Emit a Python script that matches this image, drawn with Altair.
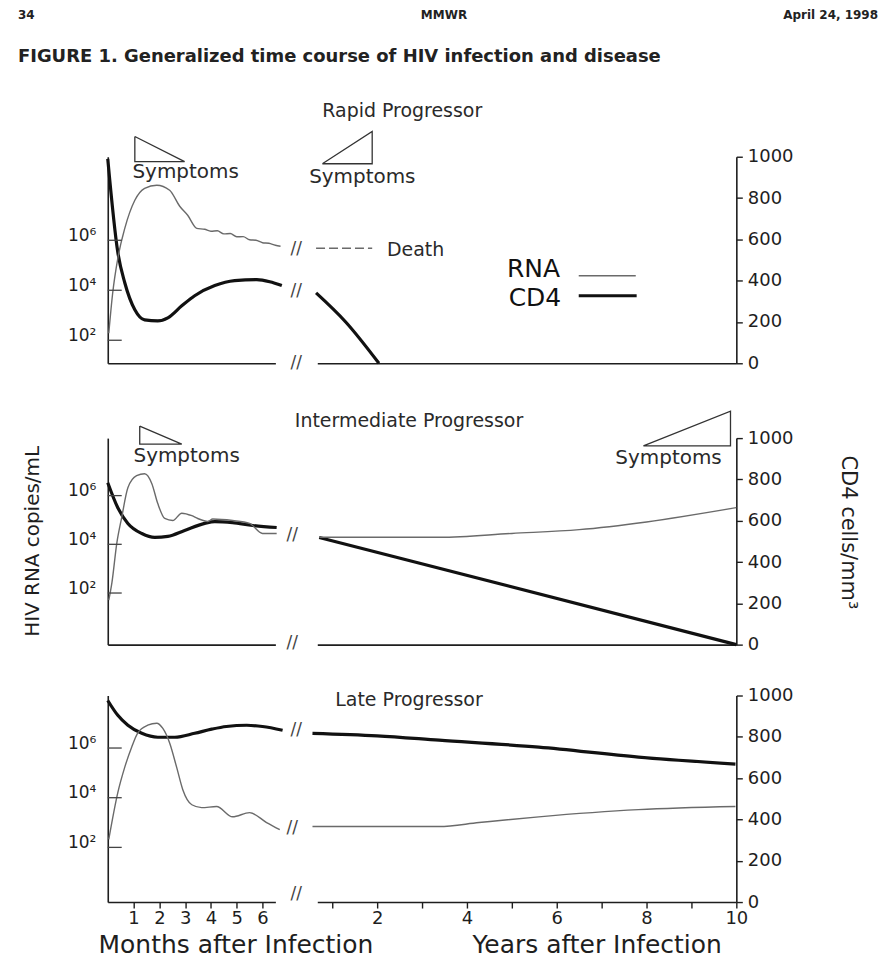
import altair as alt
import pandas as pd

FONT = "DejaVu Sans"
INK = "#1e1e1e"
GREY = "#6a6a6a"

# ---------------- axis values ----------------
month_ticks = [1, 2, 3, 4, 5, 6]
year_ticks = [1, 2, 3, 4, 5, 6, 7, 8, 9, 10]
cd4_ticks = [0, 200, 400, 600, 800, 1000]
rna_ticks = [1e2, 1e4, 1e6]

MONTH_DOMAIN = [0, 6.5]
YEAR_DOMAIN = [0.667, 10]
CD4_DOMAIN = [0, 1000]

# ---------------- Rapid progressor ----------------
rapid_cd4_m = [0, 0.39, 0.66, 1.05, 1.43, 1.94, 2.33, 2.87, 3.37, 4.15, 4.92, 5.78, 6.28, 6.75]
rapid_cd4_m_v = [990, 537, 390, 259, 210, 205, 220, 278, 327, 376, 400, 405, 395, 376]
rapid_cd4_y = [0.64, 1.3, 2.04]
rapid_cd4_y_v = [341, 200, 0]
rapid_rna_m = [0.04, 0.19, 0.39, 0.66, 1.05, 1.43, 1.9, 2.4, 2.79, 3.1, 3.45, 3.76, 4.0,
               4.25, 4.5, 4.75, 5.0, 5.25, 5.5, 5.75, 6.0, 6.25, 6.5, 6.7]
rapid_rna_m_v = [190, 7.6e3, 1.9e5, 3.0e6, 4.0e7, 1.2e8, 1.6e8, 1.0e8, 2.3e7, 1.0e7, 3.0e6,
                 2.75e6, 2.3e6, 2.4e6, 1.8e6, 1.86e6, 1.38e6, 1.4e6, 1.05e6, 1.0e6, 8.0e5,
                 7.6e5, 6.3e5, 5.8e5]
rapid_rna_y = [0.64, 1.89]
rapid_rna_y_v = [4.8e5, 4.8e5]
rapid_rna_domain = [12, 2.2e9]

# ---------------- Intermediate progressor ----------------
inter_cd4_m = [0, 0.39, 0.78, 1.32, 1.82, 2.33, 2.98, 3.76, 4.15, 4.84, 5.62, 6.55]
inter_cd4_m_v = [784, 663, 587, 538, 519, 524, 553, 587, 596, 591, 577, 567]
inter_cd4_y = [0.71, 10.0]
inter_cd4_y_v = [519, 0]
inter_rna_m = [0.04, 0.16, 0.35, 0.54, 0.78, 1.12, 1.43, 1.71, 1.94, 2.21, 2.52, 2.87,
               3.26, 3.49, 3.88, 4.07, 4.84, 5.5, 6.0, 6.55]
inter_rna_m_v = [51, 260, 1.1e4, 1.26e5, 2.1e6, 6.6e6, 7.9e6, 3.1e6, 4.7e5, 1.15e5, 9.5e4,
                 1.9e5, 1.5e5, 1.15e5, 8.7e4, 1.1e5, 9.5e4, 7.2e4, 2.8e4, 2.8e4]
inter_rna_y = [0.71, 3.4, 5.0, 6.5, 8.0, 10.0]
inter_rna_y_v = [1.95e4, 1.95e4, 2.8e4, 4.0e4, 8.3e4, 3.2e5]
inter_rna_domain = [0.76, 2.3e8]

# ---------------- Late progressor ----------------
late_cd4_m = [0, 0.39, 0.78, 1.32, 1.94, 2.6, 3.37, 4.03, 4.6, 5.39, 6.0, 6.78]
late_cd4_m_v = [976, 904, 856, 817, 798, 798, 817, 837, 850, 856, 850, 832]
late_cd4_y = [0.56, 2.0, 3.38, 5.6, 7.82, 9.98]
late_cd4_y_v = [817, 805, 784, 750, 702, 668]
late_rna_m = [0.04, 0.39, 0.66, 0.93, 1.16, 1.55, 1.9, 2.13, 2.4, 2.67, 2.91, 3.26, 3.64,
              4.22, 4.84, 5.5, 6.16, 6.67]
late_rna_m_v = [210, 1.6e4, 1.7e5, 1.1e6, 4.0e6, 8.3e6, 1.0e7, 6.3e6, 1.6e6, 1.7e5, 2.1e4,
                5.2e3, 4.0e3, 4.4e3, 1.7e3, 2.5e3, 1.0e3, 520]
late_rna_y = [0.56, 3.38, 4.27, 5.6, 7.82, 9.98]
late_rna_y_v = [690, 690, 1.0e3, 1.7e3, 3.3e3, 4.4e3]
late_rna_domain = [0.63, 1.3e8]

# ---------------- annotations (data units: months/years, CD4 scale) ----------------
rapid_tri_m_x = [1.05, 1.05, 2.98, 1.05]
rapid_tri_m_v = [1098, 976, 976, 1098]
rapid_tri_y_x = [0.78, 1.89, 1.89, 0.78]
rapid_tri_y_v = [966, 966, 1122, 966]
inter_tri_m_x = [1.24, 1.24, 2.87, 1.24]
inter_tri_m_v = [1058, 971, 971, 1058]
inter_tri_y_x = [7.93, 9.87, 9.87, 7.93]
inter_tri_y_v = [962, 962, 1130, 962]

rapid_sym_m = (3.02, 927)
rapid_sym_y = (1.67, 902)
inter_sym_m = (3.06, 913)
inter_sym_y = (8.49, 904)

rapid_breaks_x = [0.2, 0.2, 0.2]
rapid_breaks_v = [551, 351, 0]
inter_breaks_x = [0.11, 0.11]
inter_breaks_v = [529, 10]
late_breaks_x = [0.2, 0.11, 0.2]
late_breaks_v = [832, 360, 38]

panel_titles = ["Rapid Progressor", "Intermediate Progressor", "Late Progressor"]
panel_title_pos = [(2.56, 1220), (2.71, 1082), (2.71, 976)]

death_pos = (2.22, 546)
legend_labels = ["RNA", "CD4"]
legend_text_x = [4.89, 4.93]
legend_text_v = [454, 317]
legend_rna_x = [6.49, 7.76]
legend_rna_v = [424, 424]
legend_cd4_x = [6.49, 7.78]
legend_cd4_v = [327, 327]

header_page = "34"
header_journal = "MMWR"
header_date = "April 24, 1998"
figure_title = "FIGURE 1. Generalized time course of HIV infection and disease"

# layout (pixels): months part, gap with break marks, years part
W = 630
M_RANGE = [0, 168]
Y_RANGE = [210, 630]
H = 207


def frame(xs, vs, texts=None):
    d = pd.DataFrame({"x": xs, "v": vs})
    d["i"] = list(range(len(d)))
    if texts is not None:
        d["t"] = texts
    return d


AX = dict(grid=False, domainColor=INK, domainWidth=1.6, labelFont=FONT, labelColor=INK,
          titleFont=FONT, titleColor=INK, titleFontWeight="normal")


def bottom_axis(kind, show):
    if not show:
        return alt.Axis(orient="bottom", ticks=False, labels=False, **AX)
    if kind == "m":
        return alt.Axis(orient="bottom", values=month_ticks, ticks=True, tickSize=6,
                        tickColor=INK, tickWidth=1.4,
                        labelFontSize=18, labelPadding=2, labelAngle=0, labelFlush=False,
                        labelOverlap=False, titleFontSize=25, titleX=128, titleY=43,
                        titleAlign="center", titleBaseline="middle", **AX)
    return alt.Axis(orient="bottom", values=year_ticks, ticks=True, tickSize=6, tickColor=INK,
                    tickWidth=1.4,
                    labelExpr="datum.value % 2 == 0 ? datum.label : ''",
                    labelFontSize=18, labelPadding=2, labelAngle=0, labelFlush=False,
                    labelOverlap=False, titleFontSize=25, titleX=490, titleY=43,
                    titleAlign="center", titleBaseline="middle", **AX)


def xdef(kind, axis, show=False):
    dom = MONTH_DOMAIN if kind == "m" else YEAR_DOMAIN
    rng = M_RANGE if kind == "m" else Y_RANGE
    title = None
    if show:
        title = "Months after Infection" if kind == "m" else "Years after Infection"
    return alt.X("x:Q", scale=alt.Scale(domain=dom, range=rng, nice=False, zero=False),
                 axis=axis, title=title)


def cd4_axis(title_on, off):
    kw = dict(orient="right", values=cd4_ticks, format="d", tickSize=6, tickColor=INK,
              tickWidth=1.4, labelFontSize=18, labelPadding=5, labelFlush=False,
              labelOverlap=False, **AX)
    if title_on:
        kw.update(titleFontSize=21, titleX=111, titleY=94 + off, titleAngle=90,
                  titleAlign="center", titleBaseline="middle")
    return alt.Axis(**kw)


RNA_LABELS = "'10' + (datum.value < 1000 ? '\u00b2' : datum.value < 100000 ? '\u2074' : '\u2076')"


def rna_axis(title_on, off):
    kw = dict(orient="left", values=rna_ticks, ticks=False, labelExpr=RNA_LABELS,
              labelFontSize=17, labelPadding=12, labelBaseline="alphabetic",
              labelFlush=False, labelOverlap=False, **AX)
    if title_on:
        kw.update(titleFontSize=20, titleX=-75, titleY=103 + off,
                  titleAlign="center", titleBaseline="middle")
    return alt.Axis(**kw)


def cd4_y(axis, rng, title=None):
    return alt.Y("v:Q", scale=alt.Scale(domain=CD4_DOMAIN, range=rng, nice=False, zero=False),
                 axis=axis, title=title)


def rna_y(domain, axis, rng, title=None):
    return alt.Y("v:Q", scale=alt.Scale(type="log", domain=domain, range=rng, nice=False),
                 axis=axis, title=title)


def cd4_line(xs, vs, X, Y):
    return alt.Chart(frame(xs, vs)).mark_line(color="#111111", strokeWidth=3.2,
                                              interpolate="monotone").encode(x=X, y=Y)


def rna_line(xs, vs, X, Y, dash=None):
    kw = dict(color=GREY, strokeWidth=1.4, interpolate="monotone")
    if dash:
        kw["strokeDash"] = dash
    return alt.Chart(frame(xs, vs)).mark_line(**kw).encode(x=X, y=Y)


def triangle(xs, vs, X, Y):
    return alt.Chart(frame(xs, vs)).mark_line(color="#333333", strokeWidth=1.3).encode(
        x=X, y=Y, order="i:Q")


def label(xs, vs, texts, X, Y, size, align="center", color="#2a2a2a"):
    return alt.Chart(frame(xs, vs, texts)).mark_text(
        font=FONT, fontSize=size, align=align, baseline="middle", color=color).encode(
        x=X, y=Y, text="t:N")


def fixed_text(txt, x, y, size, align, baseline="middle"):
    return alt.Chart(pd.DataFrame({"t": [txt]})).mark_text(
        font=FONT, fontSize=size, fontWeight="bold", align=align, baseline=baseline,
        color="#222222").encode(x=alt.value(x), y=alt.value(y), text="t:N")


def panel(cd4_m, cd4_m_v, cd4_y_, cd4_y_v, rna_m, rna_m_v, rna_y_, rna_y_v, rna_domain,
          title_idx, breaks, show_x=False, off=0, rna_title=None, cd4_title=None,
          tri_m=None, sym_m=None, tri_y=None, sym_y=None, rna_dash=None, extras=False,
          header=False):
    h = H + off
    rng = [h, off]
    Xm = xdef("m", bottom_axis("m", show_x), show_x)
    Xm0 = xdef("m", None)
    Xy = xdef("y", bottom_axis("y", show_x), show_x)
    Xy0 = xdef("y", None)
    Yc0 = cd4_y(None, rng)
    Yc = cd4_y(cd4_axis(cd4_title is not None, off), rng, cd4_title)
    Yr = rna_y(rna_domain, rna_axis(rna_title is not None, off), rng, rna_title)
    Yr0 = rna_y(rna_domain, None, rng)

    # months part, CD4 scale
    mc = [cd4_line(cd4_m, cd4_m_v, Xm, Yc0)]
    if tri_m:
        mc.append(triangle(tri_m[0], tri_m[1], Xm, Yc0))
    if sym_m:
        mc.append(label([sym_m[0]], [sym_m[1]], ["Symptoms"], Xm, Yc0, 20))
    if header:
        mc += [
            fixed_text(header_page, -90, -147, 12, "left", "top"),
            fixed_text(header_journal, 337, -147, 12, "center", "top"),
            fixed_text(header_date, 772, -147, 12, "right", "top"),
            fixed_text(figure_title, -90, -100, 18, "left"),
        ]
    # months part, RNA scale
    tick_df = pd.DataFrame({"v": rna_ticks})
    mr = [
        rna_line(rna_m, rna_m_v, Xm0, Yr),
        alt.Chart(tick_df).mark_rule(color="#444444", strokeWidth=1.3).encode(
            y=Yr, x=alt.value(0), x2=alt.value(14)),
    ]
    # years part, CD4 scale
    tx, tv = panel_title_pos[title_idx]
    yc = [
        cd4_line(cd4_y_, cd4_y_v, Xy, Yc),
        label(breaks[0], breaks[1], ["//"] * len(breaks[0]), Xy, Yc, 17, color="#444444"),
        label([tx], [tv], [panel_titles[title_idx]], Xy, Yc, 19),
    ]
    if tri_y:
        yc.append(triangle(tri_y[0], tri_y[1], Xy, Yc))
    if sym_y:
        yc.append(label([sym_y[0]], [sym_y[1]], ["Symptoms"], Xy, Yc, 20))
    if extras:
        yc += [
            label([death_pos[0]], [death_pos[1]], ["Death"], Xy, Yc, 19, align="left"),
            label(legend_text_x, legend_text_v, legend_labels, Xy, Yc, 25, align="left",
                  color="#111111"),
            rna_line(legend_rna_x, legend_rna_v, Xy, Yc),
            cd4_line(legend_cd4_x, legend_cd4_v, Xy, Yc),
        ]
    # years part, RNA scale
    yr = [rna_line(rna_y_, rna_y_v, Xy0, Yr0, dash=rna_dash)]

    return alt.layer(alt.layer(*mc), alt.layer(*mr), alt.layer(*yc), alt.layer(*yr)).resolve_scale(
        x="independent", y="independent").properties(width=W, height=h)


row1 = panel(rapid_cd4_m, rapid_cd4_m_v, rapid_cd4_y, rapid_cd4_y_v,
             rapid_rna_m, rapid_rna_m_v, rapid_rna_y, rapid_rna_y_v, rapid_rna_domain,
             0, (rapid_breaks_x, rapid_breaks_v),
             tri_m=(rapid_tri_m_x, rapid_tri_m_v), sym_m=rapid_sym_m,
             tri_y=(rapid_tri_y_x, rapid_tri_y_v), sym_y=rapid_sym_y,
             rna_dash=[9, 4], extras=True, header=True)

row2 = panel(inter_cd4_m, inter_cd4_m_v, inter_cd4_y, inter_cd4_y_v,
             inter_rna_m, inter_rna_m_v, inter_rna_y, inter_rna_y_v, inter_rna_domain,
             1, (inter_breaks_x, inter_breaks_v), off=24,
             rna_title="HIV RNA copies/mL", cd4_title="CD4 cells/mm\u00b3",
             tri_m=(inter_tri_m_x, inter_tri_m_v), sym_m=inter_sym_m,
             tri_y=(inter_tri_y_x, inter_tri_y_v), sym_y=inter_sym_y)

row3 = panel(late_cd4_m, late_cd4_m_v, late_cd4_y, late_cd4_y_v,
             late_rna_m, late_rna_m_v, late_rna_y, late_rna_y_v, late_rna_domain,
             2, (late_breaks_x, late_breaks_v), show_x=True)

chart = alt.vconcat(row1, row2, row3, spacing=51, bounds="flush").properties(
    padding={"left": 18, "top": 8, "right": 5, "bottom": 5},
    background="white",
).configure_view(stroke=None)

chart.save("out.html", embed_options={"renderer": "svg", "actions": False})
